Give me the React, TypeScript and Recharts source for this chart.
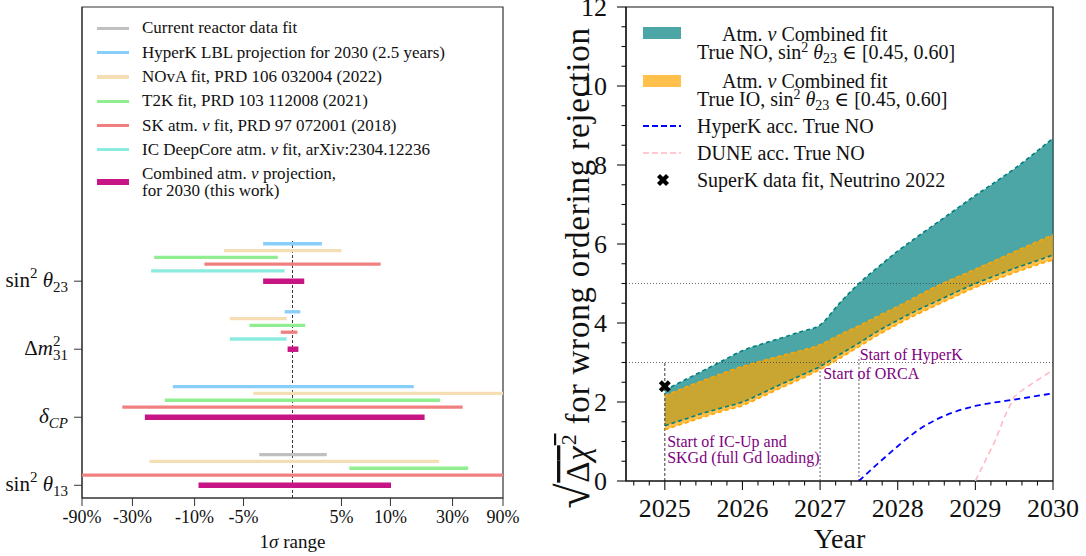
import React from 'react';
import { ComposedChart, Scatter, Line, Area, XAxis, YAxis, ReferenceLine, ReferenceArea, ReferenceDot } from 'recharts';

const FONT = '"Liberation Serif", "DejaVu Serif", serif';
const INK = '#111';

// ---------- left panel: 1 sigma ranges (percent of best fit) ----------
// the axis is linear up to 10% and compressed beyond, so map percent -> axis units
const knotPercents = [-90, -30, -10, -5, 0, 5, 10, 30, 90];
const knotPositions = [-4.3, -3.27, -2, -1, 0, 1, 2, 3.27, 4.3];
const tickPercents = [-90, -30, -10, -5, 5, 10, 30, 90];
const tickLabels = ['-90%', '-30%', '-10%', '-5%', '5%', '10%', '30%', '90%'];

const toAxis = (p: number) => {
  const n = knotPercents.length;
  let i = 0;
  if (p >= knotPercents[n - 1]) i = n - 2;
  else if (p > knotPercents[0]) {
    while (p > knotPercents[i + 1]) i++;
  }
  const t = (p - knotPercents[i]) / (knotPercents[i + 1] - knotPercents[i]);
  return knotPositions[i] + t * (knotPositions[i + 1] - knotPositions[i]);
};

const experiments = [
  { id: 'reactor', label: ['Current reactor data fit'], color: '#C0C0C0' },
  { id: 'hyperk', label: ['HyperK LBL projection for 2030 (2.5 years)'], color: '#87CEFA' },
  { id: 'nova', label: ['NOvA fit, PRD 106 032004 (2022)'], color: '#F5DEB3' },
  { id: 't2k', label: ['T2K fit, PRD 103 112008 (2021)'], color: '#90EE90' },
  { id: 'sk', label: ['SK atm. ν fit, PRD 97 072001 (2018)'], color: '#F08080' },
  { id: 'ic', label: ['IC DeepCore atm. ν fit, arXiv:2304.12236'], color: '#8CEBDF' },
  { id: 'combined', label: ['Combined atm. ν projection,', 'for 2030 (this work)'], color: '#C71585' },
];

// [experiment, lower %, upper %], top to bottom inside each group
const sin2th23Ranges: [string, number, number][] = [
  ['hyperk', -3, 3],
  ['nova', -7, 5],
  ['t2k', -23, -1.5],
  ['sk', -9, 9],
  ['ic', -24, -0.8],
  ['combined', -3, 1.2],
];
const dm31Ranges: [string, number, number][] = [
  ['hyperk', -0.8, 0.8],
  ['nova', -6.4, -0.6],
  ['t2k', -4.4, 1.3],
  ['sk', -1.2, 0.5],
  ['ic', -6.4, -0.6],
  ['combined', -0.5, 0.6],
];
const dcpRanges: [string, number, number][] = [
  ['hyperk', -17, 17.5],
  ['nova', -4, 150],
  ['t2k', -19.6, 26],
  ['sk', -42, 42],
  ['combined', -26, 21],
];
const sin2th13Ranges: [string, number, number][] = [
  ['reactor', -3.4, 3.5],
  ['nova', -24.5, 25.7],
  ['t2k', 5.8, 48.6],
  ['sk', -150, 150],
  ['combined', -9.6, 10.2],
];

const parameterGroups = [
  { id: 'th13', base: 0, ranges: sin2th13Ranges },
  { id: 'dcp', base: 10, ranges: dcpRanges },
  { id: 'dm31', base: 20, ranges: dm31Ranges },
  { id: 'th23', base: 30, ranges: sin2th23Ranges },
];

const colorOf = (id: string) => experiments.find((e) => e.id === id)!.color;

const bars = parameterGroups.flatMap((g) => {
  const others = g.ranges.filter((r) => r[0] !== 'combined');
  return g.ranges.map((r) => {
    const combined = r[0] === 'combined';
    const y = combined ? g.base : g.base + 1.5 + (others.length - 1 - others.indexOf(r));
    return {
      key: `${g.id}-${r[0]}`,
      color: colorOf(r[0]),
      width: combined ? 5.5 : 3.3,
      points: [
        { x: toAxis(r[1]), y },
        { x: toAxis(r[2]), y },
      ],
    };
  });
});

const withNu = (s: string) => {
  const parts = s.split('ν');
  return parts.map((p, i) => (
    <React.Fragment key={i}>
      {p}
      {i < parts.length - 1 && <i>ν</i>}
    </React.Fragment>
  ));
};

const ParamTick = (props: any) => {
  const { x, y, payload } = props;
  const v = payload.value;
  const common = { x, y, dy: 6, textAnchor: 'end' as const, fontFamily: FONT, fontSize: 21, fill: INK };
  if (v === 10)
    return (
      <text {...common}>
        <tspan fontStyle="italic">δ</tspan>
        <tspan dy={5} fontSize={15} fontStyle="italic">CP</tspan>
      </text>
    );
  if (v === 20)
    return (
      <text {...common}>
        Δ<tspan fontStyle="italic">m</tspan>
        <tspan dy={-9} fontSize={15}>2</tspan>
        <tspan dx={-7.5} dy={14} fontSize={15}>31</tspan>
      </text>
    );
  const sub = v === 0 ? '13' : '23';
  return (
    <text {...common}>
      sin<tspan dy={-9} fontSize={15}>2</tspan>
      <tspan dy={9}> </tspan>
      <tspan fontStyle="italic">θ</tspan>
      <tspan dy={5} fontSize={15}>{sub}</tspan>
    </text>
  );
};

const SigmaLabel = (props: any) => {
  const vb = props.viewBox || { x: 82, y: 498, width: 421, height: 58 };
  return (
    <text x={vb.x + vb.width / 2} y={vb.y + vb.height - 8} textAnchor="middle" fontFamily={FONT} fontSize={19} fill={INK}>
      1<tspan fontStyle="italic">σ</tspan> range
    </text>
  );
};

const LeftLegend = () => (
  <div style={{ position: 'absolute', left: 0, top: 0, fontFamily: FONT, fontSize: 17, color: INK }}>
    {experiments.map((e, i) => {
      const combined = e.id === 'combined';
      const cy = combined ? 182 : 28.3 + 24.3 * i;
      const h = combined ? 5.5 : 3.3;
      return (
        <React.Fragment key={e.id}>
          <div style={{ position: 'absolute', left: 97, top: cy - h / 2, width: 32, height: h, background: e.color }} />
          <div
            style={{
              position: 'absolute',
              left: 142,
              top: cy - (combined ? 17.4 : 10),
              lineHeight: combined ? '17.4px' : '20px',
              whiteSpace: 'nowrap',
            }}
          >
            {e.label.map((l, j) => (
              <div key={j}>{withNu(l)}</div>
            ))}
          </div>
        </React.Fragment>
      );
    })}
  </div>
);

const SensitivityPanel = () => (
  <div style={{ position: 'absolute', left: 0, top: 0 }}>
    <ComposedChart width={520} height={556} margin={{ top: 7, right: 17, bottom: 0, left: 0 }}>
      <XAxis
        dataKey="x"
        type="number"
        domain={[-4.3, 4.3]}
        allowDataOverflow
        ticks={tickPercents.map(toAxis)}
        interval={0}
        tickFormatter={(v: number) => tickLabels[tickPercents.map(toAxis).findIndex((t) => Math.abs(t - v) < 1e-6)]}
        tick={{ fontFamily: FONT, fontSize: 18, fill: INK }}
        tickSize={8}
        tickMargin={4}
        stroke="#333"
        height={58}
        label={(p: any) => <SigmaLabel {...p} />}
      />
      <YAxis
        dataKey="y"
        type="number"
        domain={[-1.87, 70.3]}
        allowDataOverflow
        ticks={[0, 10, 20, 30]}
        interval={0}
        tick={(p: any) => <ParamTick {...p} />}
        tickSize={8}
        tickMargin={6}
        stroke="#333"
        width={82}
      />
      <ReferenceArea x1={-4.3} x2={4.3} y1={-1.87} y2={70.3} fill="none" fillOpacity={0} stroke="#333" strokeWidth={1.2} />
      <ReferenceLine
        segment={[
          { x: 0, y: -1.87 },
          { x: 0, y: 35.9 },
        ]}
        stroke="#222"
        strokeDasharray="3 2"
        strokeWidth={0.9}
      />
      {bars.map((b) => (
        <Scatter
          key={b.key}
          data={b.points}
          fill={b.color}
          line={{ stroke: b.color, strokeWidth: b.width }}
          lineType="joint"
          shape={() => <g />}
          isAnimationActive={false}
        />
      ))}
    </ComposedChart>
    <LeftLegend />
  </div>
);

// ---------- right panel: sqrt(delta chi2) vs year ----------
const bandYears = [
  2025, 2025.25, 2025.5, 2025.75, 2026, 2026.25, 2026.5, 2026.75, 2027, 2027.25, 2027.5, 2027.75, 2028, 2028.25,
  2028.5, 2028.75, 2029, 2029.25, 2029.5, 2029.75, 2030,
];
const noUpper = [2.3, 2.55, 2.8, 3.05, 3.3, 3.47, 3.62, 3.78, 3.95, 4.5, 5.0, 5.42, 5.82, 6.18, 6.53, 6.88, 7.23, 7.56, 7.9, 8.28, 8.68];
const noLower = [1.4, 1.56, 1.72, 1.86, 2.0, 2.22, 2.45, 2.67, 2.9, 3.2, 3.49, 3.8, 4.07, 4.32, 4.55, 4.78, 5.0, 5.19, 5.38, 5.55, 5.72];
const ioUpper = [2.16, 2.36, 2.55, 2.73, 2.9, 3.04, 3.17, 3.3, 3.45, 3.7, 3.93, 4.18, 4.42, 4.68, 4.93, 5.15, 5.36, 5.58, 5.8, 6.02, 6.23];
const ioLower = [1.3, 1.46, 1.62, 1.77, 1.91, 2.13, 2.36, 2.58, 2.82, 3.1, 3.4, 3.7, 3.97, 4.22, 4.45, 4.68, 4.9, 5.09, 5.27, 5.44, 5.6];

const hyperkYears = [2027.5, 2027.75, 2028, 2028.25, 2028.5, 2028.75, 2029, 2029.25, 2029.5, 2029.75, 2030];
const hyperkValues = [0, 0.45, 0.88, 1.27, 1.56, 1.76, 1.9, 1.99, 2.06, 2.14, 2.22];

const duneYears = [2029, 2029.125, 2029.25, 2029.375, 2029.5, 2029.625, 2029.75, 2029.875, 2030];
const duneValues = [0, 0.5, 1.0, 1.62, 2.13, 2.33, 2.49, 2.65, 2.81];

const superkPoint = [{ year: 2025, v: 2.4 }];

const yearTicks = [
  2024.6, 2024.8, 2025, 2025.2, 2025.4, 2025.6, 2025.8, 2026, 2026.2, 2026.4, 2026.6, 2026.8, 2027, 2027.2, 2027.4,
  2027.6, 2027.8, 2028, 2028.2, 2028.4, 2028.6, 2028.8, 2029, 2029.2, 2029.4, 2029.6, 2029.8, 2030,
];
const chiTicks = [0, 0.5, 1, 1.5, 2, 2.5, 3, 3.5, 4, 4.5, 5, 5.5, 6, 6.5, 7, 7.5, 8, 8.5, 9, 9.5, 10, 10.5, 11, 11.5, 12];

const annotations = [
  { year: 2025.03, value: 0.86, lines: ['Start of IC-Up and', 'SKGd (full Gd loading)'] },
  { year: 2027.04, value: 2.58, lines: ['Start of ORCA'] },
  { year: 2027.51, value: 3.06, lines: ['Start of HyperK'] },
];

const bandTable = bandYears.map((year, i) => {
  const h = hyperkYears.indexOf(year);
  return {
    year,
    noLo: noLower[i],
    noHi: noUpper[i],
    ioLo: ioLower[i],
    ioHi: ioUpper[i],
    hyperk: h >= 0 ? hyperkValues[h] : undefined,
  };
});
const duneTable = duneYears.map((year, i) => ({ year, v: duneValues[i] }));

const TEAL = '#008080';
const ORANGE = '#FFA500';
const PURPLE = '#800080';

const YearTick = (props: any) => {
  const { x, y, payload } = props;
  const v = payload.value;
  const major = Math.abs(v - Math.round(v)) < 1e-6;
  return (
    <g>
      <line x1={x} x2={x} y1={y} y2={y + (major ? 9 : 4.5)} stroke={INK} strokeWidth={1.1} />
      {major && (
        <text x={x} y={y + 36} textAnchor="middle" fontFamily={FONT} fontSize={26} fill={INK}>
          {Math.round(v)}
        </text>
      )}
    </g>
  );
};

const ChiTick = (props: any) => {
  const { x, y, payload } = props;
  const v = payload.value;
  const major = Math.abs(v / 2 - Math.round(v / 2)) < 1e-6;
  return (
    <g>
      <line x1={x - (major ? 9 : 4.5)} x2={x} y1={y} y2={y} stroke={INK} strokeWidth={1.1} />
      {major && (
        <text x={x - 19} y={y + 9} textAnchor="end" fontFamily={FONT} fontSize={26} fill={INK}>
          {v}
        </text>
      )}
    </g>
  );
};

// rotated axis title, placed in the space left of the y axis
const ChiLabel = () => {
  const cx = 49;
  const cy = 268;
  return (
    <text
      x={cx}
      y={cy}
      transform={`rotate(-90 ${cx} ${cy})`}
      textAnchor="middle"
      fontFamily={FONT}
      fontSize={33}
      letterSpacing={0.8}
      fill={INK}
    >
      <tspan fontSize={46}>√</tspan>
      <tspan style={{ textDecoration: 'overline' }}>
        Δ<tspan fontStyle="italic">χ</tspan>
        <tspan dy={-13} fontSize={22}>2</tspan>
      </tspan>
      <tspan dy={13}> for wrong ordering rejection</tspan>
    </text>
  );
};

const YearLabel = (props: any) => {
  const vb = props.viewBox || { x: 86, y: 481, width: 427, height: 75 };
  return (
    <text x={vb.x + vb.width / 2} y={vb.y + vb.height - 8} textAnchor="middle" fontFamily={FONT} fontSize={28} fill={INK}>
      Year
    </text>
  );
};

const XMarker = ({ cx, cy, size = 5 }: { cx: number; cy: number; size?: number }) => (
  <g>
    <line x1={cx - size} y1={cy - size} x2={cx + size} y2={cy + size} stroke="#000" strokeWidth={4.2} />
    <line x1={cx - size} y1={cy + size} x2={cx + size} y2={cy - size} stroke="#000" strokeWidth={4.2} />
  </g>
);

const sin2th23 = (
  <>
    sin<span style={{ fontSize: '0.7em', position: 'relative', top: '-0.5em' }}>2</span>{' '}
    <i>θ</i>
    <span style={{ fontSize: '0.7em', position: 'relative', top: '0.25em' }}>23</span>
  </>
);

const RightLegend = () => {
  const text = (left: number, cy: number, content: React.ReactNode) => (
    <div style={{ position: 'absolute', left, top: cy - 9, lineHeight: '18px', whiteSpace: 'nowrap' }}>{content}</div>
  );
  return (
    <div style={{ position: 'absolute', left: 0, top: 0, fontFamily: FONT, fontSize: 20, color: INK }}>
      <div style={{ position: 'absolute', left: 643, top: 26.5, width: 38, height: 12, background: TEAL, opacity: 0.7 }} />
      {text(722, 33.7, <>Atm. <i>ν</i> Combined fit</>)}
      {text(697, 52.3, <>True NO, {sin2th23} ∈ [0.45, 0.60]</>)}
      <div style={{ position: 'absolute', left: 643, top: 74.5, width: 38, height: 12, background: ORANGE, opacity: 0.7 }} />
      {text(722, 80.7, <>Atm. <i>ν</i> Combined fit</>)}
      {text(697, 99, <>True IO, {sin2th23} ∈ [0.45, 0.60]</>)}
      <svg style={{ position: 'absolute', left: 643, top: 120 }} width={40} height={40}>
        <line x1={0} x2={38} y1={6} y2={6} stroke="#0000FF" strokeWidth={1.8} strokeDasharray="6 3" />
        <line x1={0} x2={38} y1={33} y2={33} stroke="#FFB6C1" strokeWidth={1.5} strokeDasharray="6 3" />
      </svg>
      {text(697, 126, 'HyperK acc. True NO')}
      {text(697, 153, 'DUNE acc. True NO')}
      <svg style={{ position: 'absolute', left: 652, top: 170 }} width={22} height={22}>
        <XMarker cx={11} cy={10} size={4.5} />
      </svg>
      {text(697, 180, 'SuperK data fit, Neutrino 2022')}
    </div>
  );
};

const OrderingPanel = () => (
  <div style={{ position: 'absolute', left: 540, top: 0 }}>
    <ComposedChart width={546} height={556} data={bandTable} margin={{ top: 7, right: 33, bottom: 0, left: 0 }}>
      <XAxis
        dataKey="year"
        type="number"
        domain={[2024.5, 2030]}
        allowDataOverflow
        ticks={yearTicks}
        interval={0}
        tick={(p: any) => <YearTick {...p} />}
        tickLine={false}
        tickSize={0}
        tickMargin={0}
        stroke={INK}
        strokeWidth={1.2}
        height={75}
        label={(p: any) => <YearLabel {...p} />}
      />
      <YAxis
        type="number"
        domain={[0, 12]}
        allowDataOverflow
        ticks={chiTicks}
        interval={0}
        tick={(p: any) => <ChiTick {...p} />}
        tickLine={false}
        tickSize={0}
        tickMargin={0}
        stroke={INK}
        strokeWidth={1.2}
        width={86}
        label={() => <ChiLabel />}
      />
      <ReferenceArea x1={2024.5} x2={2030} y1={0} y2={12} fill="none" fillOpacity={0} stroke={INK} strokeWidth={1.2} />
      <ReferenceLine y={3} stroke="#444" strokeDasharray="1 2" strokeWidth={0.8} />
      <ReferenceLine y={5} stroke="#444" strokeDasharray="1 2" strokeWidth={0.8} />
      <ReferenceLine
        segment={[
          { x: 2025, y: 0 },
          { x: 2025, y: 3 },
        ]}
        stroke="#222"
        strokeDasharray="3 2"
        strokeWidth={0.9}
      />
      <ReferenceLine
        segment={[
          { x: 2027, y: 0 },
          { x: 2027, y: 3 },
        ]}
        stroke="#888"
        strokeDasharray="2 2"
        strokeWidth={1.3}
      />
      <ReferenceLine
        segment={[
          { x: 2027.5, y: 0 },
          { x: 2027.5, y: 3.15 },
        ]}
        stroke="#888"
        strokeDasharray="2 2"
        strokeWidth={1.3}
      />
      <Area
        type="monotone"
        dataKey={(d: any) => [d.noLo, d.noHi]}
        fill={TEAL}
        fillOpacity={0.7}
        stroke="none"
        isAnimationActive={false}
      />
      <Area
        type="monotone"
        dataKey={(d: any) => [d.ioLo, d.ioHi]}
        fill={ORANGE}
        fillOpacity={0.7}
        stroke="none"
        isAnimationActive={false}
      />
      <Line type="monotone" dataKey="ioHi" stroke={ORANGE} strokeWidth={1.6} strokeDasharray="4 3" dot={false} isAnimationActive={false} />
      <Line type="monotone" dataKey="ioLo" stroke={ORANGE} strokeWidth={1.6} strokeDasharray="4 3" dot={false} isAnimationActive={false} />
      <Line type="monotone" dataKey="noHi" stroke={TEAL} strokeWidth={1.6} strokeDasharray="4 3" dot={false} isAnimationActive={false} />
      <Line type="monotone" dataKey="noLo" stroke={TEAL} strokeWidth={1.6} strokeDasharray="4 3" dot={false} isAnimationActive={false} />
      <Line type="monotone" dataKey="hyperk" stroke="#0000FF" strokeWidth={1.8} strokeDasharray="6 4" dot={false} isAnimationActive={false} />
      <Scatter
        data={duneTable}
        dataKey="v"
        fill="#FFB6C1"
        line={{ stroke: '#FFB6C1', strokeWidth: 1.5, strokeDasharray: '6 4' }}
        lineType="joint"
        shape={() => <g />}
        isAnimationActive={false}
      />
      <Scatter
        data={superkPoint}
        dataKey="v"
        fill="#000"
        shape={(p: any) => <XMarker cx={p.cx} cy={p.cy} size={4.5} />}
        isAnimationActive={false}
      />
      {annotations.map((a) => (
        <ReferenceDot
          key={a.lines[0]}
          x={a.year}
          y={a.value}
          r={0}
          fill="none"
          stroke="none"
          label={(p: any) => {
            const vb = p.viewBox || { x: 0, y: 0 };
            return (
              <text x={vb.x} y={vb.y} fontFamily={FONT} fontSize={16} fill={PURPLE}>
                {a.lines.map((l, i) => (
                  <tspan key={i} x={vb.x} dy={i === 0 ? 0 : 16}>
                    {l}
                  </tspan>
                ))}
              </text>
            );
          }}
        />
      ))}
    </ComposedChart>
    <div style={{ position: 'absolute', left: -540, top: 0 }}>
      <RightLegend />
    </div>
  </div>
);

export default function App() {
  return (
    <div style={{ position: 'absolute', left: 0, top: 0, width: 1086, height: 556, background: '#fff' }}>
      <SensitivityPanel />
      <OrderingPanel />
    </div>
  );
}
